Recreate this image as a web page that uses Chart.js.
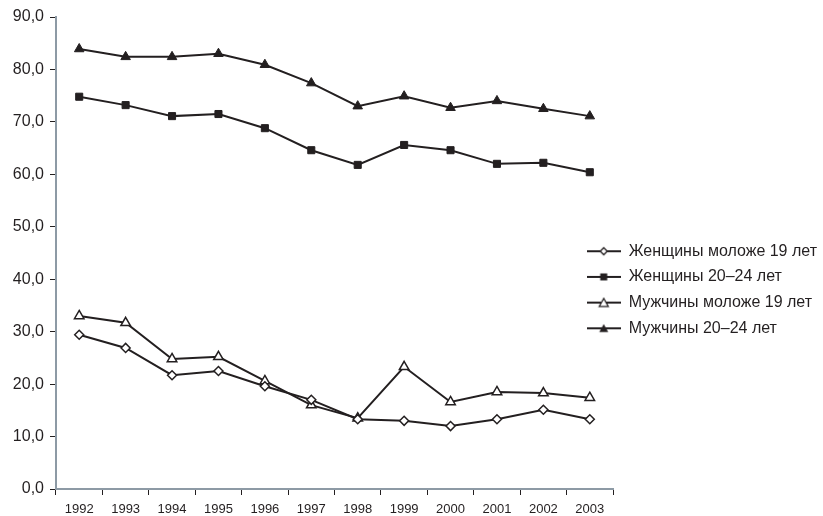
<!DOCTYPE html>
<html>
<head>
<meta charset="utf-8">
<script src="https://cdn.jsdelivr.net/npm/chart.js@4/dist/chart.umd.min.js"></script>
<style>
html,body{margin:0;padding:0;background:#fff;}
#wrap{width:823px;height:516px;position:relative;}
</style>
</head>
<body>
<div id="wrap"><canvas id="c" width="823" height="516"></canvas></div>
<script>
const years = ['1992','1993','1994','1995','1996','1997','1998','1999','2000','2001','2002','2003'];
const womenUnder19 = [29.4, 26.9, 21.7, 22.5, 19.6, 17.0, 13.3, 13.0, 12.0, 13.3, 15.1, 13.3];
const women20to24 = [74.8, 73.2, 71.1, 71.5, 68.8, 64.6, 61.8, 65.6, 64.6, 62.0, 62.2, 60.4];
const menUnder19 = [33.0, 31.7, 24.8, 25.2, 20.6, 16.0, 13.5, 23.3, 16.6, 18.5, 18.3, 17.4];
const men20to24 = [83.9, 82.4, 82.4, 83.0, 80.9, 77.4, 73.0, 74.9, 72.7, 74.0, 72.5, 71.1];
const seriesLabels = ['Женщины моложе 19 лет', 'Женщины 20–24 лет', 'Мужчины моложе 19 лет', 'Мужчины 20–24 лет'];
const yTicks = [0, 10, 20, 30, 40, 50, 60, 70, 80, 90];

const INK = '#231f20';
const AXIS = '#8d9aa5';
const FONT = '"Liberation Sans", Arial, sans-serif';

function legendIcon(kind) {
  const c = document.createElement('canvas');
  c.width = 34; c.height = 12;
  const g = c.getContext('2d');
  g.strokeStyle = INK; g.lineWidth = 2;
  g.beginPath(); g.moveTo(0, 6); g.lineTo(34, 6); g.stroke();
  g.lineWidth = 1.3;
  g.fillStyle = (kind === 'diamond' || kind === 'otri') ? '#fff' : INK;
  g.beginPath();
  if (kind === 'diamond') { g.moveTo(17, 2.5); g.lineTo(20.5, 6); g.lineTo(17, 9.5); g.lineTo(13.5, 6); g.closePath(); g.fill(); g.stroke(); }
  else if (kind === 'square') { g.rect(13.5, 2.5, 7, 7); g.fill(); }
  else { g.moveTo(17, 1.8); g.lineTo(21.5, 9.8); g.lineTo(12.5, 9.8); g.closePath(); g.fill(); if (kind === 'otri') g.stroke(); }
  return c;
}
const icons = [legendIcon('diamond'), legendIcon('square'), legendIcon('otri'), legendIcon('ftri')];

const common = { borderColor: INK, borderWidth: 2, pointBorderColor: INK, tension: 0 };
const datasets = [
  Object.assign({ label: seriesLabels[0], data: womenUnder19, pointStyle: 'rectRot', pointRadius: 4.5, pointBackgroundColor: '#fff', pointBorderWidth: 1.5 }, common),
  Object.assign({ label: seriesLabels[1], data: women20to24, pointStyle: 'rect', pointRadius: 5, pointBackgroundColor: INK, pointBorderWidth: 1 }, common),
  Object.assign({ label: seriesLabels[2], data: menUnder19, pointStyle: 'triangle', pointRadius: 5.5, pointBackgroundColor: '#fff', pointBorderWidth: 1.5 }, common),
  Object.assign({ label: seriesLabels[3], data: men20to24, pointStyle: 'triangle', pointRadius: 5.5, pointBackgroundColor: INK, pointBorderWidth: 1 }, common)
];

const moveLegend = {
  id: 'moveLegend',
  beforeDraw(chart) {
    const lg = chart.legend;
    if (!lg) return;
    const w = lg.width, h = lg.height;
    lg.left = 577; lg.top = 233.5; lg.right = lg.left + w; lg.bottom = lg.top + h;
  }
};

new Chart(document.getElementById('c'), {
  type: 'line',
  data: { labels: years, datasets: datasets },
  plugins: [moveLegend],
  options: {
    responsive: false,
    animation: false,
    layout: { padding: { left: 0, top: 17, right: 210, bottom: 0 } },
    plugins: {
      tooltip: { enabled: false },
      legend: {
        position: 'chartArea',
        align: 'start',
        labels: {
          usePointStyle: true,
          pointStyleWidth: 34,
          padding: 9.7,
          color: INK,
          font: { family: FONT, size: 16 },
          generateLabels(chart) {
            return chart.data.datasets.map((ds, i) => ({
              text: ds.label, pointStyle: icons[i], fillStyle: INK, strokeStyle: INK,
              lineWidth: 0, hidden: false, datasetIndex: i, fontColor: INK
            }));
          }
        }
      }
    },
    scales: {
      x: {
        offset: true,
        grid: { display: true, drawOnChartArea: false, offset: true, color: INK, tickLength: 6, tickWidth: 1 },
        border: { color: AXIS, width: 2 },
        ticks: { color: INK, font: { family: FONT, size: 13 }, padding: 7, maxRotation: 0, autoSkip: false },
        afterFit(s) { s.height = 27; }
      },
      y: {
        min: 0, max: 90,
        afterBuildTicks(s) { s.ticks = yTicks.map(v => ({ value: v })); },
        grid: { display: true, drawOnChartArea: false, color: INK, tickLength: 6, tickWidth: 1 },
        border: { color: AXIS, width: 2 },
        ticks: { color: INK, font: { family: FONT, size: 16 }, padding: 6,
          callback: v => Number(v).toFixed(1).replace('.', ',') },
        afterFit(s) { s.width = 56; }
      }
    }
  }
});
</script>
</body>
</html>
